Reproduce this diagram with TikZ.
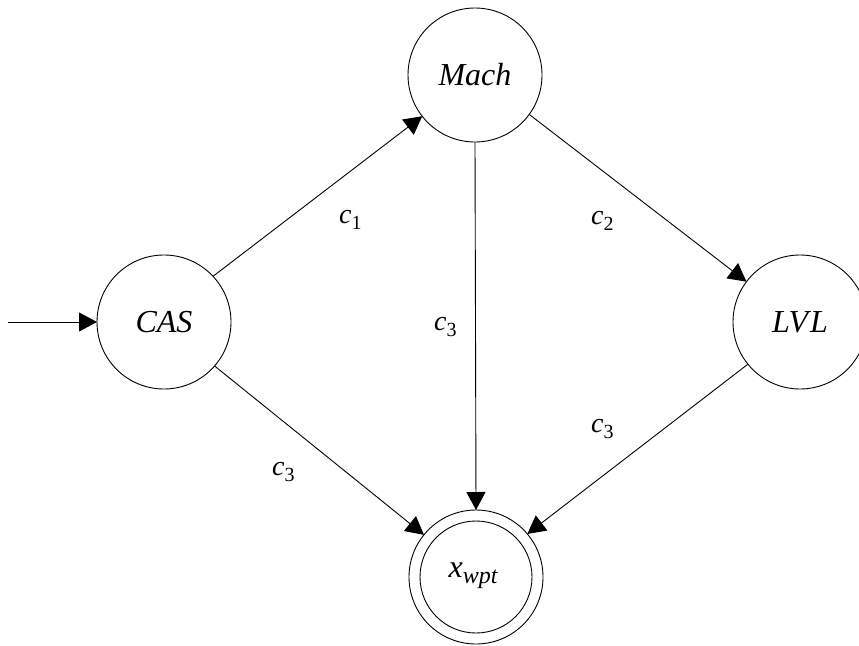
\documentclass[tikz,border=0pt]{standalone}
\usepackage{fontspec}
\setmainfont{Liberation Serif}
\usetikzlibrary{arrows.meta}
\newcommand{\lbl}[2]{{\fontsize{28}{32}\selectfont\itshape #1\raisebox{-6pt}{\fontsize{20}{22}\selectfont\upshape #2}}}
\begin{document}
\begin{tikzpicture}[x=1pt,y=-1pt,
  state/.style={draw,circle,line width=0.9pt,minimum size=134pt,inner sep=0pt,outer sep=0pt,
    font=\fontsize{32}{38}\selectfont\itshape},
  arr/.style={line width=0.9pt,-{Triangle[length=18pt,width=19pt]}},
  lab/.style={anchor=base west,inner sep=0pt}]
\useasboundingbox (0,0) rectangle (859,645);
\clip (0,0) rectangle (859,645);
\node[state] (cas) at (164,322) {CAS};
\node[state] (mach) at (475,75) {Mach};
\node[state] (lvl) at (800,322) {LV\kern2pt L};
\node[state] (xw) at (476,577) {};
\draw[line width=0.9pt] (xw.center) circle[radius=56pt];
\node[inner sep=0pt] (xwt) at (473,576) {\fontsize{32}{38}\selectfont\itshape x\raisebox{-6pt}{\fontsize{24}{26}\selectfont wpt}};
\coordinate (start) at (8,322);
\draw[arr] (start) -- (cas.west);
\draw[arr] (cas.43) -- (mach.218);
\draw[arr] (mach.-36) -- (lvl.143);
\draw[arr] (mach.south) -- (xw.north);
\draw[arr] (cas.-41) -- (xw.141);
\draw[arr] (lvl.219) -- (xw.40);
\node[lab] (l1) at (339,223) {\lbl{c}{1}};
\node[lab] (l2) at (591,224) {\lbl{c}{2}};
\node[lab] (l3) at (434,330) {\lbl{c}{3}};
\node[lab] (l4) at (272,475) {\lbl{c}{3}};
\node[lab] (l5) at (591,432) {\lbl{c}{3}};
\end{tikzpicture}
\end{document}
